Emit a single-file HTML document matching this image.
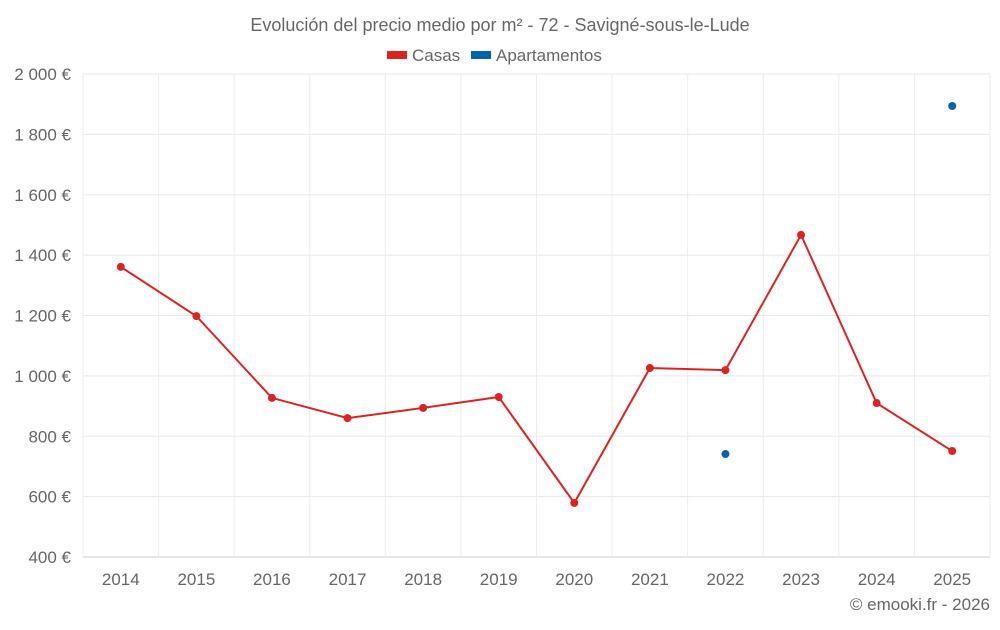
<!DOCTYPE html>
<html><head><meta charset="utf-8"><style>
body{margin:0;background:#fff;font-family:"Liberation Sans",sans-serif}
svg text{font-family:"Liberation Sans",sans-serif;fill:#666}
</style></head><body>
<svg width="1000" height="625">
<text x="500" y="31" text-anchor="middle" font-size="18">Evolución del precio medio por m² - 72 - Savigné-sous-le-Lude</text>
<g>
<g><rect x="387" y="51" width="20" height="8" fill="#dd2222"/><text x="412" y="61" font-size="17">Casas</text></g>
<g><rect x="471" y="51" width="20" height="8" fill="#0066a6"/><text x="496" y="61" font-size="17">Apartamentos</text></g>
</g>
<g id="grid"></g><g id="axes"></g><g id="series"></g>
<text x="990" y="610" text-anchor="end" font-size="17">© emooki.fr - 2026</text>
</svg>
<script>
const years=["2014","2015","2016","2017","2018","2019","2020","2021","2022","2023","2024","2025"];
const casas=[1361,1198,927,860,894,930,579,1026,1019,1467,910,751];
const apartamentos=[null,null,null,null,null,null,null,null,741,null,null,1894];
const yTicks=[400,600,800,1000,1200,1400,1600,1800,2000];
const L=83,R=990,T=74,B=557,yMin=400,yMax=2000;
const bw=(R-L)/years.length;
const xs=i=>L+bw*(i+0.5);
const ys=v=>B-(v-yMin)/(yMax-yMin)*(B-T);
const NS="http://www.w3.org/2000/svg";
function mk(t,a,p){const e=document.createElementNS(NS,t);for(const k in a)e.setAttribute(k,a[k]);p.appendChild(e);return e;}
const g=document.getElementById('grid'),ax=document.getElementById('axes'),s=document.getElementById('series');
yTicks.forEach(v=>{
 const l=mk('line',{x1:L,x2:R,y1:ys(v),y2:ys(v),stroke:v===yMin?'#ccc':'#e8e8e8'},g);
 
 
 const t=mk('text',{x:71,y:ys(v)+6,'text-anchor':'end','font-size':17},ax);
 t.textContent=(v>=1000?Math.floor(v/1000)+' '+String(v%1000).padStart(3,'0'):v)+' €';
 
 
});
for(let i=0;i<=years.length;i++){
 const l=mk('line',{x1:L+bw*i,x2:L+bw*i,y1:T,y2:B,stroke:'#ececec'},g);
 
 
}
years.forEach((y,i)=>{
 const t=mk('text',{x:xs(i),y:585,'text-anchor':'middle','font-size':17},ax);
 t.textContent=y;
 
 
});
const p=mk('polyline',{points:casas.map((v,i)=>xs(i)+','+ys(v)).join(' '),fill:'none',stroke:'#dd2222','stroke-width':2},s);


casas.forEach((v,i)=>{
 const c=mk('circle',{cx:xs(i),cy:ys(v),r:4,fill:'#dd2222'},s);
 
 
});
apartamentos.forEach((v,i)=>{
 if(v==null)return;
 const c=mk('circle',{cx:xs(i),cy:ys(v),r:4,fill:'#0066a6'},s);
 
 
});
</script>
</body></html>
